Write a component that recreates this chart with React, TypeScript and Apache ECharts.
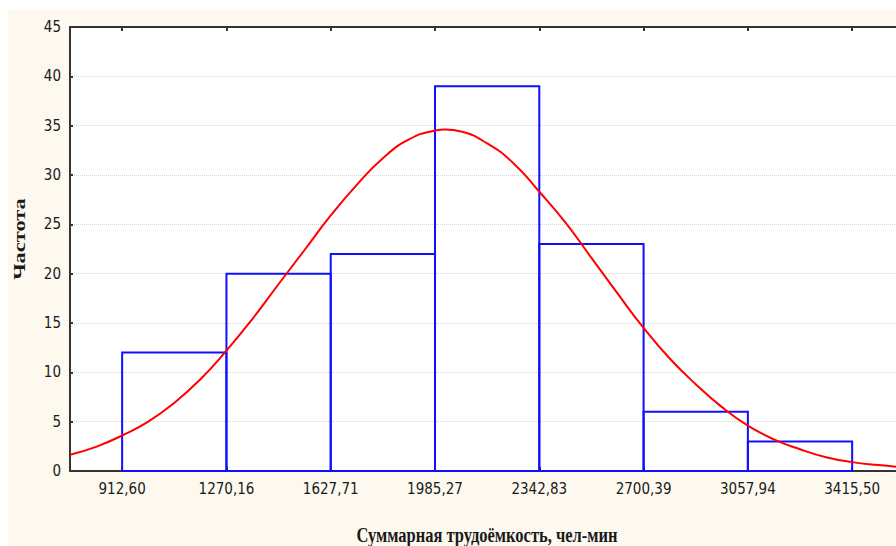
import React, { useEffect, useRef } from "react";
import * as echarts from "echarts";

// Histogram bin edges (x-axis tick labels) and frequencies
const BIN_EDGES = [912.6, 1270.16, 1627.71, 1985.27, 2342.83, 2700.39, 3057.94, 3415.5];
const FREQUENCIES = [12, 20, 22, 39, 23, 6, 3];
const X_TICK_LABELS = ["912,60", "1270,16", "1627,71", "1985,27", "2342,83", "2700,39", "3057,94", "3415,50"];

// Fitted normal curve
const CURVE_X = [
  734, 823, 912.6, 1002, 1091, 1181, 1270.16, 1359, 1448, 1538, 1627.71, 1717, 1806.5, 1896,
  1985.27, 2020, 2075, 2164, 2254, 2342.83, 2432, 2521.6, 2611, 2700.39, 2790, 2879, 2968, 3057.94,
  3147, 3237, 3326, 3415.5, 3505, 3566,
];
const CURVE_Y = [
  1.65, 2.45, 3.6, 5.0, 6.9, 9.3, 12.2, 15.4, 18.9, 22.4, 25.9, 29.0, 31.7, 33.6,
  34.5, 34.6, 34.4, 33.2, 31.2, 28.3, 25.2, 21.6, 18.0, 14.5, 11.4, 8.8, 6.5, 4.6,
  3.2, 2.2, 1.4, 0.9, 0.6, 0.44,
];

const Y_MIN = 0;
const Y_MAX = 45;
const Y_STEP = 5;
const X_MIN = 733.82;
const X_MAX = 3565.8;

const X_TITLE = "Суммарная трудоёмкость, чел-мин";
const Y_TITLE = "Частота";

export default function App() {
  const ref = useRef<HTMLDivElement>(null);

  useEffect(() => {
    if (!ref.current) return;
    const chart = echarts.init(ref.current, null, { renderer: "svg" });

    const bins = FREQUENCIES.map((f, i) => [BIN_EDGES[i], BIN_EDGES[i + 1], f]);
    const curve = CURVE_X.map((x, i) => [x, CURVE_Y[i]]);
    const labelMap: Record<string, string> = {};
    BIN_EDGES.forEach((v, i) => (labelMap[v.toFixed(2)] = X_TICK_LABELS[i]));

    const labelFont = "'Liberation Sans Narrow', 'Arial Narrow', 'DejaVu Sans Condensed', 'Liberation Sans', sans-serif";
    const titleFont = "'Liberation Serif', 'Times New Roman', serif";

    chart.setOption({
      animation: false,
      backgroundColor: "#fdf9ef",
      grid: {
        left: 62,
        top: 17,
        right: 0,
        bottom: 75,
        show: true,
        backgroundColor: "#ffffff",
        borderWidth: 0,
      },
      xAxis: [
        {
          type: "value",
          min: X_MIN,
          max: X_MAX,
          position: "bottom",
          axisLine: { show: true, lineStyle: { color: "#333", width: 2 } },
          axisTick: { show: true, inside: true, length: 4, customValues: BIN_EDGES, lineStyle: { color: "#333", width: 2 } },
          axisLabel: {
            customValues: BIN_EDGES,
            margin: 10,
            fontFamily: labelFont,
            fontSize: 15,
            color: "#1a1a1a",
            formatter: (v: number) => labelMap[v.toFixed(2)] ?? "",
          },
          splitLine: { show: false },
        },
        {
          type: "value",
          min: X_MIN,
          max: X_MAX,
          position: "top",
          axisLine: { show: true, lineStyle: { color: "#333", width: 2 } },
          axisTick: { show: true, inside: true, length: 4, customValues: BIN_EDGES, lineStyle: { color: "#333", width: 2 } },
          axisLabel: { show: false },
          splitLine: { show: false },
        },
      ],
      yAxis: {
        type: "value",
        min: Y_MIN,
        max: Y_MAX,
        interval: Y_STEP,
        axisLine: { show: true, lineStyle: { color: "#333", width: 2 } },
        axisTick: { show: true, inside: true, length: 3, lineStyle: { color: "#333", width: 2 } },
        axisLabel: { margin: 9, fontFamily: labelFont, fontSize: 15, color: "#1a1a1a" },
        splitLine: { show: true, lineStyle: { color: "#d4d4d4", type: "dotted", width: 1 } },
      },
      graphic: [
        {
          type: "text",
          x: 12,
          y: 229,
          rotation: Math.PI / 2,
          scaleX: 1.4,
          style: {
            text: Y_TITLE,
            fontFamily: titleFont,
            fontWeight: "bold",
            fontSize: 16,
            fill: "#1a1a1a",
            align: "center",
            verticalAlign: "middle",
          },
        },
        {
          type: "text",
          x: 479,
          y: 525,
          scaleY: 1.25,
          style: {
            text: X_TITLE,
            fontFamily: titleFont,
            fontWeight: "bold",
            fontSize: 16.5,
            fill: "#1a1a1a",
            align: "center",
            verticalAlign: "middle",
          },
        },
      ],
      series: [
        {
          type: "custom",
          xAxisIndex: 0,
          data: bins,
          encode: { x: [0, 1], y: 2 },
          renderItem: (_params: any, api: any) => {
            const p0 = api.coord([api.value(0), 0]);
            const p1 = api.coord([api.value(1), api.value(2)]);
            return {
              type: "rect",
              shape: { x: p0[0], y: p1[1], width: p1[0] - p0[0], height: p0[1] - p1[1] },
              style: { fill: "none", stroke: "#1010ff", lineWidth: 2 },
            };
          },
          z: 2,
        },
        {
          type: "line",
          xAxisIndex: 0,
          data: curve,
          smooth: 0.5,
          showSymbol: false,
          symbol: "none",
          clip: true,
          lineStyle: { color: "#ff0000", width: 2 },
          z: 3,
        },
      ],
    });

    return () => chart.dispose();
  }, []);

  return (
    <div style={{ position: "absolute", left: 0, top: 0, width: 896, height: 546, background: "#ffffff", overflow: "hidden" }}>
      <div ref={ref} style={{ position: "absolute", left: 8, top: 10, width: 888, height: 536 }} />
    </div>
  );
}
